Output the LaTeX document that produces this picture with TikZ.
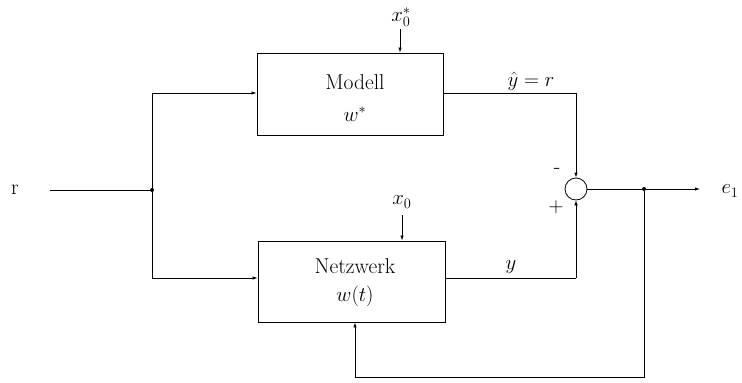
\documentclass[tikz,border=0pt]{standalone}
\usepackage{fontspec}
\usetikzlibrary{arrows.meta}
\begin{document}
\begin{tikzpicture}[x=1pt,y=-1pt,
  every node/.style={font=\fontsize{21.5}{25}\selectfont},
  blk/.style={draw,line width=0.9pt,inner sep=0pt},
  ln/.style={line width=0.8pt},
  arr/.style={ln,-{Latex[length=5pt,width=3.5pt]}},
  dot/.style={circle,fill,inner sep=0pt,minimum size=4pt}]
\useasboundingbox (0,0) rectangle (742,383);
% blocks
\node[blk,minimum width=186pt,minimum height=82pt] (M) at (350,94) {};
\node[blk,minimum width=187pt,minimum height=81pt] (N) at (351.5,281.5) {};
\node at (355,82) {Modell};
\node at (355,114) {$w^*$};
\node at (355,266) {Netzwerk};
\node at (355,296) {$w(t)$};
% summing circle
\node[draw,circle,line width=0.8pt,minimum size=22pt,inner sep=0pt] (S) at (576,189) {};
% inputs
\node (r) at (15,190) {r};
\coordinate (rs) at (50,190);
\node[dot] (J1) at (152,190) {};
\coordinate (J1t) at (152,93);
\coordinate (J1b) at (152,278);
\draw[ln] (rs) -- (J1);
\draw[ln] (J1t) -- (J1b);
\draw[arr] (J1t) -- (M.west |- J1t);
\draw[arr] (J1b) -- (N.west |- J1b);
% top inputs
\node (x0s) at (401,17) {$x_0^*$};
\coordinate (x0st) at (400,29);
\draw[arr] (x0st) -- (x0st |- M.north);
\node (x0) at (402,202) {$x_0$};
\coordinate (x0t) at (402,215);
\draw[arr] (x0t) -- (x0t |- N.north);
% outputs to summer
\coordinate (Mo) at (576,93);
\draw[ln] (M.east |- Mo) -- (Mo);
\draw[arr] (Mo) -- (S.north);
\node at (531,81) {$\hat y = r$};
\coordinate (No) at (576,278);
\draw[ln] (N.east |- No) -- (No);
\draw[arr] (No) -- (S.south);
\node at (511,267) {$y$};
\node at (557,171) {-};
\node at (556,207) {$+$};
% output
\node[dot] (J2) at (644,189) {};
\coordinate (E) at (700,189);
\draw[ln] (S.east) -- (J2);
\draw[arr] (J2) -- (E);
\node at (730,191) {$e_1$};
% feedback
\coordinate (F1) at (644,377);
\coordinate (F2) at (355,377);
\draw[arr] (J2) -- (F1) -- (F2) -- (F2 |- N.south);
\end{tikzpicture}
\end{document}
